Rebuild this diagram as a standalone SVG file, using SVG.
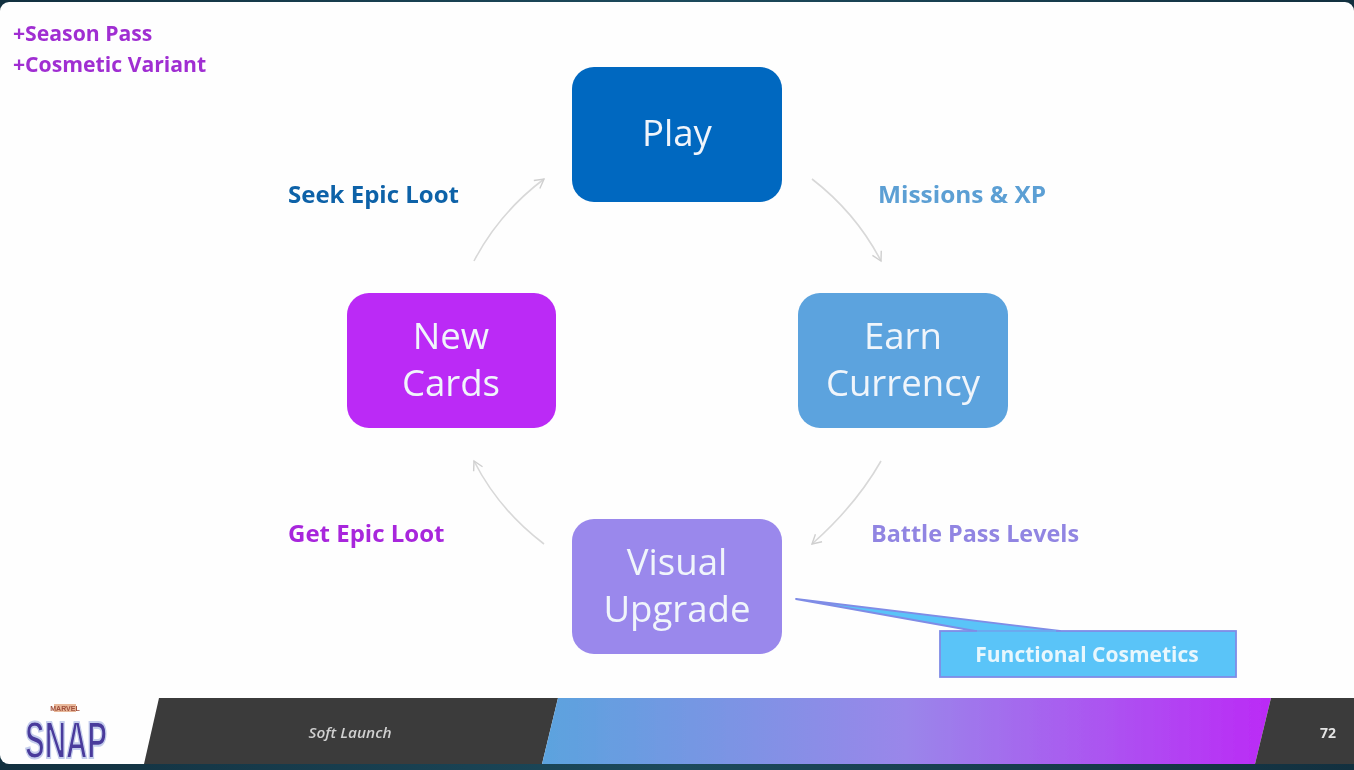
<svg xmlns="http://www.w3.org/2000/svg" width="1354" height="770" viewBox="0 0 1354 770">
<defs>
<linearGradient id="band" x1="0" y1="0" x2="1" y2="0"><stop offset="0" stop-color="#5ba3de"/><stop offset="0.5" stop-color="#9a86ea"/><stop offset="1" stop-color="#bb2af6"/></linearGradient>
<linearGradient id="edge" x1="0" y1="0" x2="1" y2="0"><stop offset="0" stop-color="#12303f"/><stop offset="0.5" stop-color="#1c4a5c"/><stop offset="1" stop-color="#12303f"/></linearGradient>
<marker id="arrow" viewBox="0 0 12 12" refX="10" refY="6" markerWidth="12" markerHeight="12" markerUnits="userSpaceOnUse" orient="auto"><path d="M1 1L10 6L1 11" fill="none" stroke="#cfcfcf" stroke-width="1.4"/></marker>
<filter id="soft" x="-3%" y="-3%" width="106%" height="106%"><feGaussianBlur stdDeviation="0.6"/></filter>
<filter id="softer" x="-10%" y="-10%" width="120%" height="120%"><feGaussianBlur stdDeviation="0.7"/></filter>
</defs>
<style>
.node{stroke:none}
.nt{font-family:"Open Sans","Noto Sans",sans-serif;font-size:36.6px;fill:#f0f5fb;text-anchor:middle}
.lb{font-family:"Open Sans","Noto Sans",sans-serif;font-size:24px;font-weight:700}
.cn{fill:none;stroke:#d8d8d8;stroke-width:1.6;marker-end:url(#arrow)}
</style>
<rect width="1354" height="770" fill="url(#edge)"/>
<rect x="0" y="2" width="1354" height="762" rx="9" fill="#fefefe"/>
<g filter="url(#soft)">
<g id="footer">
<path d="M159 698H558L542 764H144Z" fill="#3b3b3b"/>
<path d="M558 698H1271L1255 764H542Z" fill="url(#band)"/>
<path d="M1271 698H1354V764H1255Z" fill="#3b3b3b"/>
<text x="350" y="738" font-family="'Open Sans',sans-serif" font-size="14" font-style="italic" font-weight="600" fill="#d0d0d0" text-anchor="middle" textLength="83" lengthAdjust="spacingAndGlyphs">Soft Launch</text>
<text x="1328" y="738" font-family="'Open Sans',sans-serif" font-size="14" font-weight="700" fill="#e4e4e4" text-anchor="middle">72</text>
</g>
<g id="notes" class="lb" fill="#a02fd2" style="font-size:21.2px">
<text x="13" y="41">+Season Pass</text>
<text x="13" y="72">+Cosmetic Variant</text>
</g>
<g id="connectors">
<path class="cn" d="M812 179Q856 213 881 261"/>
<path class="cn" d="M881 461Q856 505 812 544"/>
<path class="cn" d="M544 544Q499 510 474 461"/>
<path class="cn" d="M474 261Q499 213 544 179"/>
<path id="callout" d="M796 599L1060 631H975Z" fill="#5ac4f8" stroke="#7f8ce6" stroke-width="1.8" stroke-linejoin="round"/>
</g>
<g id="play"><rect class="node" x="572" y="67" width="210" height="135" rx="22" fill="#0468c0"/><text class="nt" x="677" y="146">Play</text></g>
<g id="earn-currency"><rect class="node" x="798" y="293" width="210" height="135" rx="22" fill="#5ba3de"/><text class="nt" x="903" y="349">Earn</text><text class="nt" x="903" y="396">Currency</text></g>
<g id="visual-upgrade"><rect class="node" x="572" y="519" width="210" height="135" rx="22" fill="#9a88ec"/><text class="nt" x="677" y="575">Visual</text><text class="nt" x="677" y="622">Upgrade</text></g>
<g id="new-cards"><rect class="node" x="347" y="293" width="209" height="135" rx="22" fill="#bb2af6"/><text class="nt" x="451" y="349">New</text><text class="nt" x="451" y="396">Cards</text></g>
<g id="labels">
<text class="lb" x="288" y="203" fill="#0f62a8">Seek Epic Loot</text>
<text class="lb" x="878" y="203" fill="#5b9fd4" textLength="168" lengthAdjust="spacingAndGlyphs">Missions &amp; XP</text>
<text class="lb" x="871" y="542" fill="#9185e2" textLength="208" lengthAdjust="spacingAndGlyphs">Battle Pass Levels</text>
<text class="lb" x="288" y="542" fill="#a828dc">Get Epic Loot</text>
</g>
<g id="functional-cosmetics">
<rect x="940" y="631" width="296" height="46" fill="#5ac4f8" stroke="#7f8ce6" stroke-width="1.8"/>
<path d="M977 631H1056" stroke="#5ac4f8" stroke-width="1"/>
<text x="1087" y="662" font-family="'Open Sans',sans-serif" font-size="21" font-weight="700" fill="#e8f7fd" text-anchor="middle">Functional Cosmetics</text>
</g>
</g>
<g id="logo" filter="url(#softer)">
<rect x="54" y="704" width="22" height="8" fill="#e8b89a"/>
<text x="65" y="711" font-family="'Liberation Sans',sans-serif" font-size="7" font-weight="700" fill="#a0503c" text-anchor="middle">MARVEL</text>
<text transform="translate(66 758) scale(1 1.5)" font-family="'Liberation Sans',sans-serif" font-size="34" font-weight="700" fill="#4a3a9c" stroke="#c4cdec" stroke-width="1.4" text-anchor="middle" textLength="82" lengthAdjust="spacingAndGlyphs">SNAP</text>
</g>
</svg>
